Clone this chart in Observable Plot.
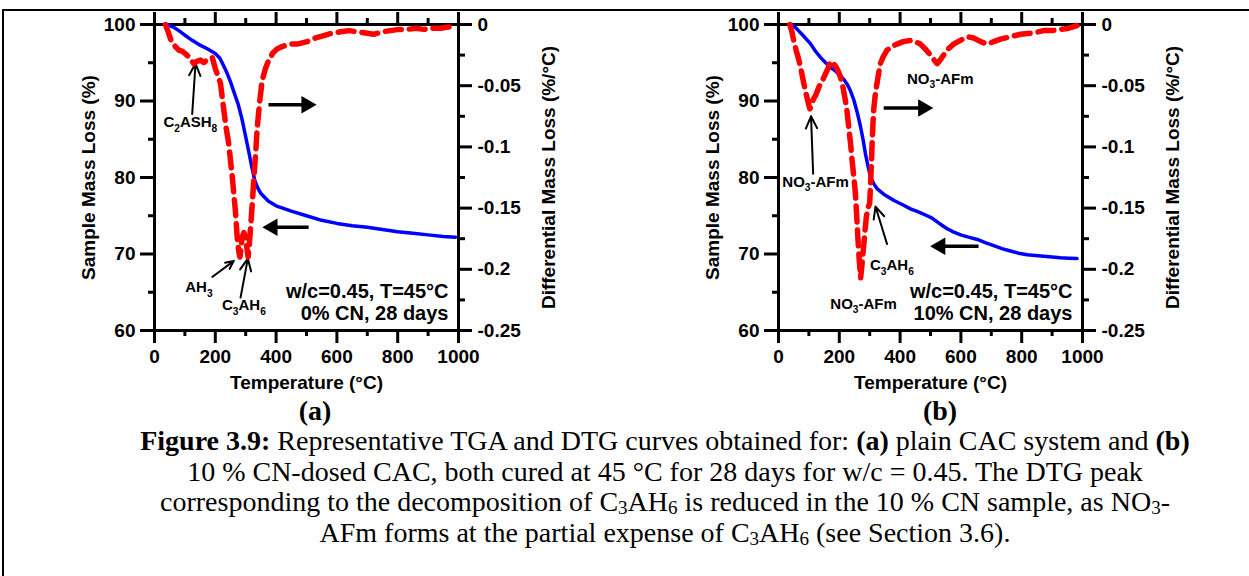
<!DOCTYPE html>
<html>
<head>
<meta charset="utf-8">
<script src="https://cdn.jsdelivr.net/npm/d3@7"></script>
<script src="https://cdn.jsdelivr.net/npm/@observablehq/plot@0.6"></script>
<style>
  html, body { margin: 0; padding: 0; background: #fff; }
  #fig { position: relative; width: 1249px; height: 576px; overflow: hidden; }
  #border { position: absolute; left: 2px; top: 9px; width: 1300px; height: 700px;
            border-top: 2.5px solid #000; border-left: 2.5px solid #000; }
  .panel { position: absolute; top: 0; width: 624px; height: 400px; }
  .panel svg { position: absolute; left: 0; top: 0; }
  .tag { position: absolute; top: 395px; font: bold 28px "Liberation Serif", "Times New Roman", serif;
         transform: translateX(-50%); line-height: 31px; }
  #caption { position: absolute; left: 60px; width: 1210px; top: 426px; text-align: center;
             font: 28px/30.5px "Liberation Serif", "Times New Roman", serif; color: #000; }
  #caption sub { font-size: 68%; vertical-align: baseline; position: relative; top: 0.18em; line-height: 0; }
</style>
</head>
<body>
<div id="fig">
  <div id="border"></div>
  <div class="panel" id="panelA" style="left:0px"></div>
  <div class="panel" id="panelB" style="left:624px"></div>
  <div class="tag" style="left:315px">(a)</div>
  <div class="tag" style="left:940px">(b)</div>
  <div id="caption">
    <b>Figure 3.9:</b> Representative TGA and DTG curves obtained for: <b>(a)</b> plain CAC system and <b>(b)</b><br>
    10 % CN-dosed CAC, both cured at 45 °C for 28 days for w/c = 0.45. The DTG peak<br>
    corresponding to the decomposition of C<sub>3</sub>AH<sub>6</sub> is reduced in the 10 % CN sample, as NO<sub>3</sub>-<br>
    AFm forms at the partial expense of C<sub>3</sub>AH<sub>6</sub> (see Section 3.6).
  </div>
</div>
<script>
// ---- Axis ticks ----
const tempMajor = [0, 200, 400, 600, 800, 1000];
const tempMinor = [100, 300, 500, 700, 900];
const massMajor = [60, 70, 80, 90, 100];
const massMinor = [65, 75, 85, 95];
const rateMajor = [0, -0.05, -0.1, -0.15, -0.2, -0.25];
const rateMinor = [-0.025, -0.075, -0.125, -0.175, -0.225];

// ---- (a) plain CAC: TGA mass (%) and DTG rate (%/°C) vs temperature (°C) ----
const tgaA = [
  [40,100],[60,99.7],[80,99.2],[100,98.6],[125,97.9],[150,97.3],[175,96.8],[200,96.2],
  [215,95.6],[225,94.8],[237,93.8],[250,92.5],[262,91.1],[275,89.6],[288,87.6],[300,85.3],
  [310,83.4],[320,81.4],[330,79.6],[340,78.6],[350,77.9],[375,76.9],[400,76.3],[450,75.6],
  [500,75.0],[550,74.4],[600,74.0],[650,73.7],[700,73.5],[750,73.2],[800,72.9],[850,72.7],
  [900,72.5],[950,72.3],[990,72.2]
];
const dtgA = [
  [36,0],[45,-0.006],[53,-0.012],[65,-0.017],[80,-0.021],[92,-0.022],[102,-0.024],[115,-0.027],
  [129,-0.032],[140,-0.030],[151,-0.029],[162,-0.031],[173,-0.029],[182,-0.028],[190,-0.027],
  [200,-0.036],[210,-0.043],[217,-0.048],[228,-0.070],[236,-0.085],[244,-0.097],[256,-0.125],
  [266,-0.152],[272,-0.174],[277,-0.185],[281,-0.190],[285,-0.182],[288,-0.174],[294,-0.170],
  [299,-0.174],[304,-0.183],[308,-0.190],[312,-0.180],[316,-0.166],[322,-0.145],[327,-0.125],
  [333,-0.104],[338,-0.084],[346,-0.063],[354,-0.046],[365,-0.036],[376,-0.029],[390,-0.023],
  [403,-0.020],[420,-0.018],[447,-0.016],[470,-0.016],[502,-0.014],[530,-0.011],[557,-0.009],
  [585,-0.007],[612,-0.006],[640,-0.005],[667,-0.006],[695,-0.007],[721,-0.008],[750,-0.006],
  [776,-0.005],[805,-0.004],[831,-0.004],[860,-0.003],[886,-0.004],[915,-0.003],[941,-0.003],
  [965,-0.002],[985,-0.002]
];
const phasesA = [
  {T: 118, mass: 87.2, label: "C₂ASH₈"},
  {T: 146, mass: 65.6, label: "AH₃"},
  {T: 294, mass: 63.3, label: "C₃AH₆"}
];
const pointersA = [
  {T1: 124, m1: 88.3, T2: 135, m2: 94.9},
  {T1: 190, m1: 67.0, T2: 261, m2: 69.1},
  {T1: 283, m1: 64.3, T2: 307, m2: 69.4}
];
// One arrow points toward the DTG axis, one toward the TGA axis.
const axisArrowsA = [
  {T1: 375, m1: 89.5, T2: 500, m2: 89.5},
  {T1: 507, m1: 73.5, T2: 388, m2: 73.5}
];
const conditionsA = ["w/c=0.45, T=45°C", "0% CN, 28 days"];

// ---- (b) 10 % CN-dosed CAC ----
const tgaB = [
  [39,100],[50,99.8],[61,99.4],[80,98.6],[105,97.5],[120,96.6],[138,95.7],[155,95.0],[171,94.4],
  [188,93.9],[204,93.3],[215,92.8],[226,92.2],[237,91.3],[248,90.1],[259,88.5],[270,86.6],
  [278,85.0],[286,83.1],[295,81.4],[303,80.0],[313,79.2],[325,78.5],[350,77.7],[380,77.0],
  [410,76.4],[434,75.9],[460,75.5],[489,75.0],[505,74.7],[522,74.2],[540,73.7],[555,73.3],
  [575,72.9],[599,72.5],[625,72.2],[654,71.9],[680,71.5],[708,71.1],[735,70.7],[763,70.4],
  [790,70.1],[818,69.9],[845,69.8],[872,69.7],[900,69.6],[927,69.5],[955,69.45],[982,69.4]
];
const dtgB = [
  [37,0],[44,-0.006],[50,-0.013],[58,-0.021],[67,-0.029],[75,-0.038],[83,-0.048],[93,-0.059],
  [100,-0.066],[103,-0.069],[108,-0.066],[115,-0.061],[122,-0.058],[130,-0.053],[138,-0.048],
  [146,-0.045],[155,-0.040],[163,-0.036],[168,-0.032],[173,-0.030],[180,-0.032],[188,-0.034],
  [196,-0.038],[204,-0.043],[212,-0.051],[220,-0.062],[226,-0.072],[231,-0.084],[237,-0.097],
  [242,-0.111],[248,-0.125],[253,-0.138],[257,-0.155],[261,-0.174],[265,-0.190],[270,-0.207],
  [274,-0.198],[278,-0.186],[281,-0.179],[285,-0.167],[289,-0.157],[294,-0.150],[300,-0.146],
  [303,-0.130],[306,-0.111],[309,-0.090],[313,-0.070],[318,-0.058],[324,-0.048],[330,-0.039],
  [335,-0.032],[345,-0.026],[357,-0.021],[372,-0.018],[390,-0.016],[410,-0.014],[434,-0.013],
  [450,-0.014],[467,-0.016],[483,-0.020],[500,-0.025],[512,-0.029],[522,-0.032],[532,-0.029],
  [543,-0.025],[558,-0.020],[576,-0.016],[598,-0.013],[620,-0.010],[642,-0.011],[665,-0.014],
  [686,-0.016],[708,-0.014],[730,-0.012],[763,-0.010],[796,-0.008],[835,-0.007],[872,-0.005],
  [900,-0.005],[927,-0.004],[955,-0.003],[982,-0.001]
];
const phasesB = [
  {T: 532, mass: 92.9, label: "NO₃-AFm"},
  {T: 122, mass: 79.4, label: "NO₃-AFm"},
  {T: 373, mass: 68.5, label: "C₃AH₆"},
  {T: 280, mass: 63.5, label: "NO₃-AFm"}
];
const pointersB = [
  {T1: 114, m1: 80.5, T2: 107, m2: 88.0},
  {T1: 357, m1: 71.3, T2: 319, m2: 76.2}
];
const axisArrowsB = [
  {T1: 346, m1: 89.1, T2: 476, m2: 89.1},
  {T1: 658, m1: 71.0, T2: 532, m2: 71.0}
];
const conditionsB = ["w/c=0.45, T=45°C", "10% CN, 28 days"];

// ---- shared layout ----
const SANS = "'Liberation Sans', Arial, Helvetica, sans-serif";
const frameLayout = {width: 624, height: 400, marginLeft: 154, marginRight: 166, marginTop: 24, marginBottom: 70};
const svgStyle = `font-family:${SANS};font-size:19px;font-weight:bold;background:transparent;overflow:visible;color:#000`;
const blank = () => "";

// Shaft plus a solid triangular head at (T2, m2).
function axisArrowMarks(arrows) {
  const right = arrows.filter(d => d.T2 > d.T1);
  const left = arrows.filter(d => d.T2 < d.T1);
  return [
    Plot.link(arrows, {x1: "T1", y1: "m1", x2: "T2", y2: "m2", stroke: "#000", strokeWidth: 3.5}),
    Plot.dot(right, {x: "T2", y: "m2", symbol: "triangle", r: 6.5, fill: "#000", stroke: "none", rotate: 90}),
    Plot.dot(left, {x: "T2", y: "m2", symbol: "triangle", r: 6.5, fill: "#000", stroke: "none", rotate: -90})
  ];
}

function massPlot(tga, phases, pointers, axisArrows, conditions) {
  return Plot.plot({
    ...frameLayout,
    style: svgStyle,
    x: {domain: [0, 1000], axis: null},
    y: {domain: [60, 100], axis: null},
    marks: [
      Plot.axisX({anchor: "bottom", ticks: tempMajor, tickSize: 13, tickPadding: 6, strokeWidth: 3, tickFormat: d => String(d), label: null}),
      Plot.axisX({anchor: "bottom", ticks: tempMinor, tickSize: 6, strokeWidth: 3, tickFormat: blank, label: null}),
      Plot.axisX({anchor: "top", ticks: tempMajor, tickSize: 13, strokeWidth: 3, tickFormat: blank, label: null}),
      Plot.axisX({anchor: "top", ticks: tempMinor, tickSize: 7, strokeWidth: 3, tickFormat: blank, label: null}),
      Plot.axisY({anchor: "left", ticks: massMajor, tickSize: 14, tickPadding: 5, strokeWidth: 3, tickFormat: d => String(d), label: null}),
      Plot.axisY({anchor: "left", ticks: massMinor, tickSize: 6, strokeWidth: 3, tickFormat: blank, label: null}),
      Plot.frame({strokeWidth: 3}),
      Plot.text(["Temperature (°C)"], {frameAnchor: "bottom", dy: 52, lineAnchor: "middle", textAnchor: "middle", fontSize: 19}),
      Plot.text(["Sample Mass Loss (%)"], {frameAnchor: "left", dx: -66, rotate: -90, textAnchor: "middle", lineAnchor: "middle", fontSize: 19}),
      Plot.line(tga, {x: d => d[0], y: d => d[1], stroke: "#0000ff", strokeWidth: 3.5}),
      Plot.arrow(pointers, {x1: "T1", y1: "m1", x2: "T2", y2: "m2", stroke: "#000", strokeWidth: 2, headLength: 10, headAngle: 50}),
      ...axisArrowMarks(axisArrows),
      Plot.text(phases, {x: "T", y: "mass", text: "label", fontSize: 15}),
      Plot.text([conditions.join("\n")], {frameAnchor: "bottom-right", dx: -10, dy: -11, textAnchor: "end", lineAnchor: "bottom", lineHeight: 1.1, fontSize: 20})
    ]
  });
}

function ratePlot(dtg) {
  return Plot.plot({
    ...frameLayout,
    style: svgStyle,
    x: {domain: [0, 1000], axis: null},
    y: {domain: [-0.25, 0], axis: null},
    marks: [
      Plot.axisY({anchor: "right", ticks: rateMajor, tickSize: 13, tickPadding: 6, strokeWidth: 3, tickFormat: d => String(d), label: null}),
      Plot.axisY({anchor: "right", ticks: rateMinor, tickSize: 6, strokeWidth: 3, tickFormat: blank, label: null}),
      Plot.text(["Differential Mass Loss (%/°C)"], {frameAnchor: "right", dx: 90, rotate: -90, textAnchor: "middle", lineAnchor: "middle", fontSize: 19}),
      Plot.line(dtg, {x: d => d[0], y: d => d[1], stroke: "#ff0000", strokeWidth: 5.5, strokeDasharray: "16,8"})
    ]
  });
}

// Turn Unicode subscript digits in chart labels into lowered, smaller tspans.
const SUBDIGITS = "₀₁₂₃₄₅₆₇₈₉";
function lowerSubscripts(svg) {
  svg.querySelectorAll("text").forEach(t => {
    if (t.children.length) return;
    const s = t.textContent;
    if (![...s].some(c => SUBDIGITS.includes(c))) return;
    const size = parseFloat(getComputedStyle(t).fontSize) || 15;
    const shift = size * 0.3;
    t.textContent = "";
    let lowered = false;
    for (const part of s.match(/[₀-₉]+|[^₀-₉]+/g)) {
      const span = document.createElementNS("http://www.w3.org/2000/svg", "tspan");
      if (SUBDIGITS.includes(part[0])) {
        span.textContent = [...part].map(c => SUBDIGITS.indexOf(c)).join("");
        span.setAttribute("font-size", (size * 0.68).toFixed(1));
        span.setAttribute("dy", shift.toFixed(1));
        lowered = true;
      } else {
        span.textContent = part;
        if (lowered) { span.setAttribute("dy", (-shift).toFixed(1)); lowered = false; }
      }
      t.appendChild(span);
    }
  });
}

function mount(id, massSvg, rateSvg) {
  const host = document.getElementById(id);
  host.appendChild(massSvg);
  host.appendChild(rateSvg);
  lowerSubscripts(massSvg);
}

mount("panelA", massPlot(tgaA, phasesA, pointersA, axisArrowsA, conditionsA), ratePlot(dtgA));
mount("panelB", massPlot(tgaB, phasesB, pointersB, axisArrowsB, conditionsB), ratePlot(dtgB));
</script>
</body>
</html>
